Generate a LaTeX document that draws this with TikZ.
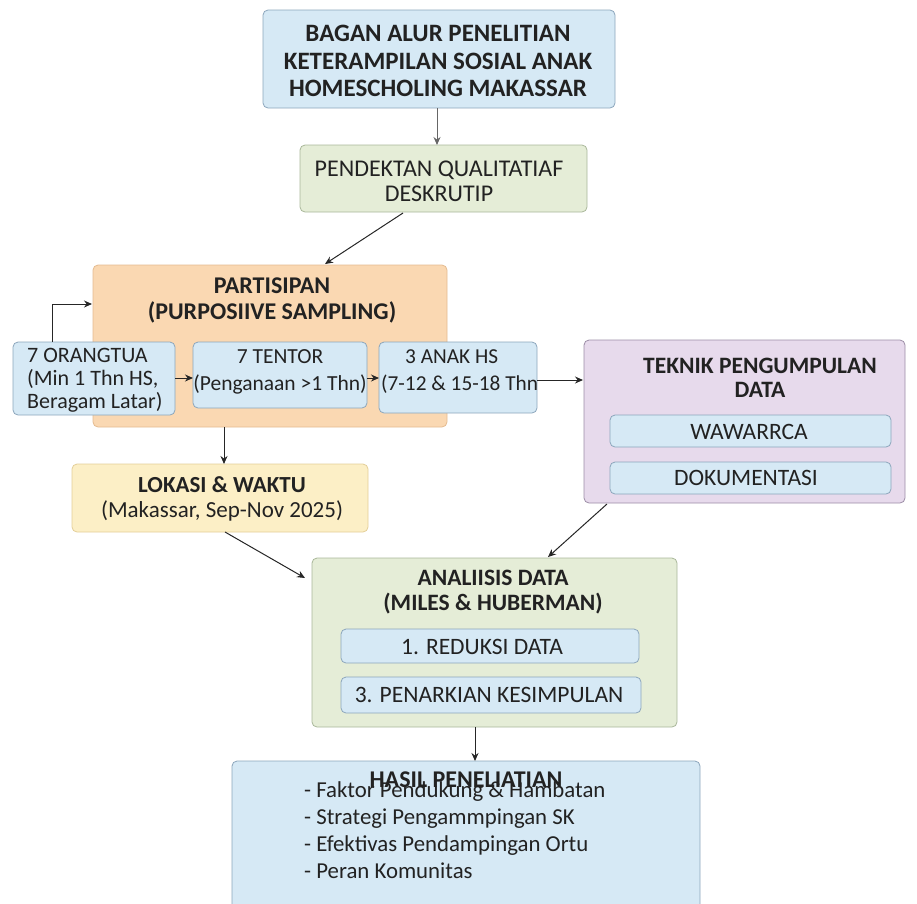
\documentclass[tikz,border=0pt]{standalone}
\usepackage{fontspec}
\setmainfont{Carlito}
\usetikzlibrary{arrows.meta}
\definecolor{bluef}{HTML}{D6E9F5}
\definecolor{blued}{HTML}{8CA6BC}
\definecolor{greenf}{HTML}{E5EDD7}
\definecolor{greend}{HTML}{A9B79A}
\definecolor{orangef}{HTML}{FAD8B2}
\definecolor{oranged}{HTML}{E4BB90}
\definecolor{lavf}{HTML}{E7DAEC}
\definecolor{lavd}{HTML}{9C8DA6}
\definecolor{yelf}{HTML}{FCEFC6}
\definecolor{yeld}{HTML}{E3CE98}
\definecolor{txt}{HTML}{222222}
\tikzset{
  box/.style={rounded corners=5pt, line width=0.8pt},
  lbl/.style={text=txt, align=center, inner sep=0pt},
  arr/.style={-{Stealth[length=8pt,width=7pt]}, line width=1pt, draw=black!85},
}
\begin{document}
\begin{tikzpicture}[x=1pt,y=-1pt]
\useasboundingbox (0,0) rectangle (917,903);
% Title
\draw[box, fill=bluef, draw=blued] (263,10) rectangle (615,108);
\node[lbl, font=\bfseries\fontsize{25}{27.5}\selectfont] (title) at (438,61) {BAGAN ALUR PENELITIAN\\KETERAMPILAN SOSIAL ANAK\\HOMESCHOLING MAKASSAR};
\coordinate (titleB) at (437,108);
% Pendekatan
\draw[box, fill=greenf, draw=greend] (300,145) rectangle (587,212);
\node[lbl, font=\fontsize{24}{25}\selectfont] (pend) at (439,181) {PENDEKTAN QUALITATIAF\\DESKRUTIP};
\coordinate (pendT) at (437,145);
\coordinate (pendB) at (403,213);
% Partisipan
\draw[box, fill=orangef, draw=oranged] (93,265) rectangle (447,427);
\node[lbl, font=\bfseries\fontsize{24}{26}\selectfont] (part) at (272,300) {PARTISIPAN\\(PURPOSIIVE SAMPLING)};
\coordinate (partT) at (325,264);
\coordinate (partL) at (92,304);
\coordinate (partB) at (224,427);
% inner boxes
\draw[box, fill=bluef, draw=blued] (13,342) rectangle (175,415);
\node[lbl, font=\fontsize{22}{23}\selectfont, align=left, anchor=west] (ortu) at (27,380) {7 ORANGTUA\\(Min 1 Thn HS,\\Beragam Latar)};
\draw[box, fill=bluef, draw=blued] (193,342) rectangle (367,408);
\node[lbl, font=\fontsize{21.5}{27}\selectfont] (tentor) at (280,372) {7 TENTOR\\(Penganaan >1 Thn)};
\draw[box, fill=bluef, draw=blued] (379,342) rectangle (537,413);
\node[lbl, font=\fontsize{21.3}{27}\selectfont, align=left, anchor=west] (anak) at (381,372) {\hspace*{24pt}3 ANAK HS\\(7-12 \& 15-18 Thn};
\coordinate (ortuT) at (52,342);
\coordinate (ortuR) at (175,378);
\coordinate (tentL) at (193,378);
\coordinate (tentR) at (367,378);
\coordinate (anakL) at (379,378);
\coordinate (anakR) at (537,380);
% Teknik
\draw[box, fill=lavf, draw=lavd] (584,340) rectangle (905,503);
\node[lbl, font=\bfseries\fontsize{23.5}{24}\selectfont] (tek) at (760,378) {TEKNIK PENGUMPULAN\\DATA};
\draw[box, fill=bluef, draw=blued] (610,415) rectangle (891,447);
\node[lbl, font=\fontsize{23.5}{24}\selectfont] (waw) at (749,432) {WAWARRCA};
\draw[box, fill=bluef, draw=blued] (610,462) rectangle (891,494);
\node[lbl, font=\fontsize{23.5}{24}\selectfont] (dok) at (746,478) {DOKUMENTASI};
\coordinate (tekL) at (583,380);
\coordinate (tekB) at (607,504);
% Lokasi
\draw[box, fill=yelf, draw=yeld] (72,464) rectangle (368,532);
\node[lbl, font=\fontsize{23}{25}\selectfont] (lok) at (222,499) {\textbf{LOKASI \& WAKTU}\\(Makassar, Sep-Nov 2025)};
\coordinate (lokT) at (224,464);
\coordinate (lokB) at (225,532);
% Analisis
\draw[box, fill=greenf, draw=greend] (312,558) rectangle (677,727);
\node[lbl, font=\bfseries\fontsize{23.5}{25}\selectfont] (ana) at (493,592) {ANALIISIS DATA\\(MILES \& HUBERMAN)};
\draw[box, fill=bluef, draw=blued] (341,629) rectangle (639,663);
\node[lbl, font=\fontsize{23.5}{24}\selectfont] (red) at (482,647) {1. REDUKSI DATA};
\draw[box, fill=bluef, draw=blued] (341,677) rectangle (641,713);
\node[lbl, font=\fontsize{23.5}{24}\selectfont] (tarik) at (489,695) {3. PENARKIAN KESIMPULAN};
\coordinate (anaL) at (305,578);
\coordinate (anaT) at (548,557);
\coordinate (anaB) at (475,727);
% Hasil
\draw[box, fill=bluef, draw=blued] (232,761) rectangle (700,915);
\node[lbl, font=\bfseries\fontsize{24}{24}\selectfont] (hasil) at (466,780) {HASIL PENELIATIAN};
\node[lbl, font=\fontsize{22.8}{27}\selectfont, align=left, anchor=west] (list) at (304,830) {- Faktor Pendukung \& Hambatan\\- Strategi Pengammpingan SK\\- Efektivas Pendampingan Ortu\\- Peran Komunitas};
\coordinate (hasT) at (475,761);
% arrows
\draw[arr, draw=black!60] (titleB) -- (pendT);
\draw[arr] (pendB) -- (partT);
\draw[arr] (ortuT) |- (partL);
\draw[arr] (ortuR) -- (tentL);
\draw[arr] (tentR) -- (anakL);
\draw[arr] (anakR) -- (tekL);
\draw[arr] (partB) -- (lokT);
\draw[arr] (lokB) -- (anaL);
\draw[arr] (tekB) -- (anaT);
\draw[arr] (anaB) -- (hasT);
\end{tikzpicture}
\end{document}
